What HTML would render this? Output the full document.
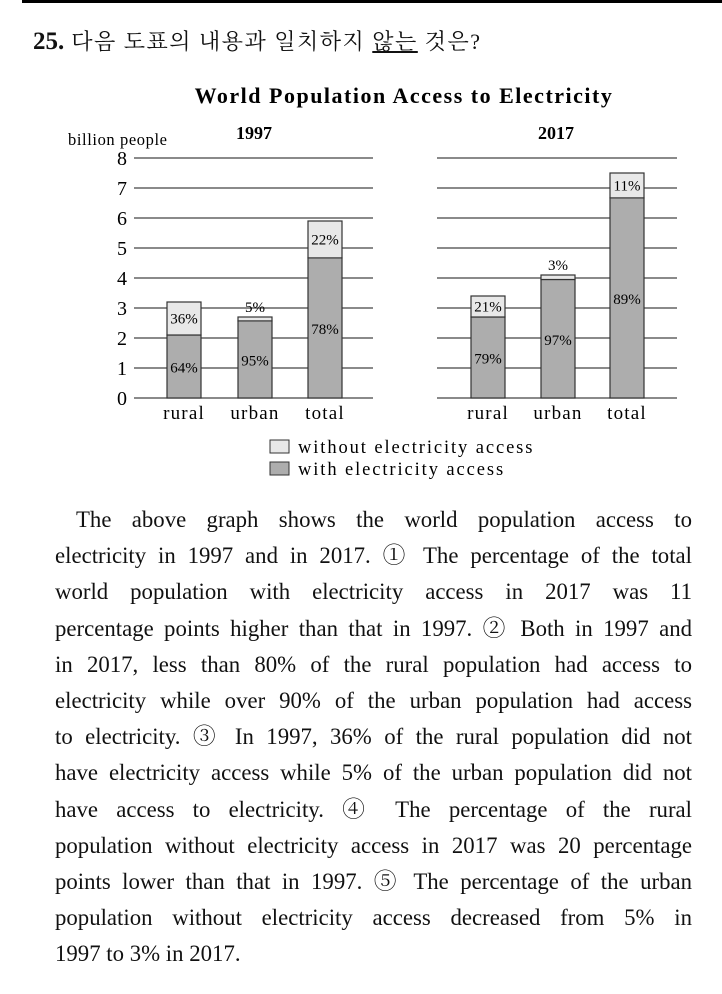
<!DOCTYPE html>
<html><head><meta charset="utf-8">
<style>
body{margin:0;width:722px;height:994px;background:#fff;overflow:hidden;position:relative;font-family:"Liberation Serif","Noto Serif CJK SC",serif;color:#111}
#topbar{position:absolute;left:22px;top:0;width:700px;height:3px;background:#000}
#q{position:absolute;left:33px;top:25px;font-size:22px;white-space:nowrap;letter-spacing:1.5px}
#q b{font-size:25px;letter-spacing:0}
#para{position:absolute;left:55px;top:502px;width:637px;font-size:22.8px;line-height:36.2px}
#para div{text-align:justify;text-align-last:justify;white-space:nowrap;height:36.2px}
#para div.last{text-align-last:left}
svg{position:absolute;left:0;top:0}
</style></head><body>
<div id="topbar"></div>
<div id="q"><b>25.</b> 다음 도표의 내용과 일치하지 <u>않는</u> 것은?</div>
<svg id="chart" width="722" height="500"></svg>
<div id="para">
<div style="padding-left:21px">The above graph shows the world population access to</div>
<div>electricity in 1997 and in 2017. ① The percentage of the total</div>
<div>world population with electricity access in 2017 was 11</div>
<div>percentage points higher than that in 1997. ② Both in 1997 and</div>
<div>in 2017, less than 80% of the rural population had access to</div>
<div>electricity while over 90% of the urban population had access</div>
<div>to electricity. ③ In 1997, 36% of the rural population did not</div>
<div>have electricity access while 5% of the urban population did not</div>
<div>have access to electricity. ④ The percentage of the rural</div>
<div>population without electricity access in 2017 was 20 percentage</div>
<div>points lower than that in 1997. ⑤ The percentage of the urban</div>
<div>population without electricity access decreased from 5% in</div>
<div class="last">1997 to 3% in 2017.</div>
</div>
<script>
const categories=["rural","urban","total"];
const with1997=[2.1,2.57,4.67];
const total1997=[3.2,2.7,5.9];
const pctWith1997=["64%","95%","78%"];
const pctWithout1997=["36%","5%","22%"];
const with2017=[2.7,3.95,6.67];
const total2017=[3.4,4.1,7.5];
const pctWith2017=["79%","97%","89%"];
const pctWithout2017=["21%","3%","11%"];
const yTicks=[0,1,2,3,4,5,6,7,8];

const svg=document.getElementById('chart');
const NS='http://www.w3.org/2000/svg';
function mk(t,a,txt){const e=document.createElementNS(NS,t);for(const k in a)e.setAttribute(k,a[k]);if(txt!==undefined)e.textContent=txt;svg.appendChild(e);return e;}
const y=v=>398-v*30;
const F='Liberation Serif, serif';

let t=mk('text',{x:404,y:103,'text-anchor':'middle','font-size':22,'font-weight':'bold','letter-spacing':1.5,'font-family':F},'World Population Access to Electricity');


t=mk('text',{x:68,y:145,'font-size':16.5,'letter-spacing':0.6,'font-family':F},'billion people');



function panel(x0,x1,barX,wv,tv,pw,po,year,yearX,labels){
  yTicks.forEach(v=>{
    const l=mk('line',{x1:x0,x2:x1,y1:y(v),y2:y(v),stroke:'#444','stroke-width':1.3});
    
    
    if(labels){const tt=mk('text',{x:127,y:y(v)+7,'text-anchor':'end','font-size':20,'font-family':F},String(v));
      
      }
  });
  const yt=mk('text',{x:yearX,y:139,'text-anchor':'middle','font-size':18,'font-weight':'bold','font-family':F},year);
  
  
  categories.forEach((c,i)=>{
    const bx=barX[i],w=34;
    const r1=mk('rect',{x:bx,y:y(wv[i]),width:w,height:y(0)-y(wv[i]),fill:'#adadad',stroke:'#333','stroke-width':1.2});
    
    
    const r2=mk('rect',{x:bx,y:y(tv[i]),width:w,height:y(wv[i])-y(tv[i]),fill:'#e8e8e8',stroke:'#333','stroke-width':1.2});
    
    
    const tw=mk('text',{x:bx+w/2,y:(y(wv[i])+y(0))/2+6,'text-anchor':'middle','font-size':15,'font-family':F},pw[i]);
    
    
    const small=(y(wv[i])-y(tv[i]))<12;
    const ty=small?y(tv[i])-5:(y(tv[i])+y(wv[i]))/2+5;
    const to=mk('text',{x:bx+w/2,y:ty,'text-anchor':'middle','font-size':15,'font-family':F},po[i]);
    
    
    const cl=mk('text',{x:bx+w/2,y:419,'text-anchor':'middle','font-size':19,'letter-spacing':1.2,'font-family':F},c);
    
    
  });
}
panel(134,373,[167,238,308],with1997,total1997,pctWith1997,pctWithout1997,'1997',254,true);
panel(437,677,[471,541,610],with2017,total2017,pctWith2017,pctWithout2017,'2017',556,false);

let lg=mk('rect',{x:270,y:440,width:19,height:13,fill:'#e8e8e8',stroke:'#333'});


lg=mk('text',{x:298,y:453,'font-size':18.5,'letter-spacing':1.9,'font-family':F},'without electricity access');


lg=mk('rect',{x:270,y:462,width:19,height:13,fill:'#adadad',stroke:'#333'});


lg=mk('text',{x:298,y:475,'font-size':18.5,'letter-spacing':1.9,'font-family':F},'with electricity access');


</script>
</body></html>
